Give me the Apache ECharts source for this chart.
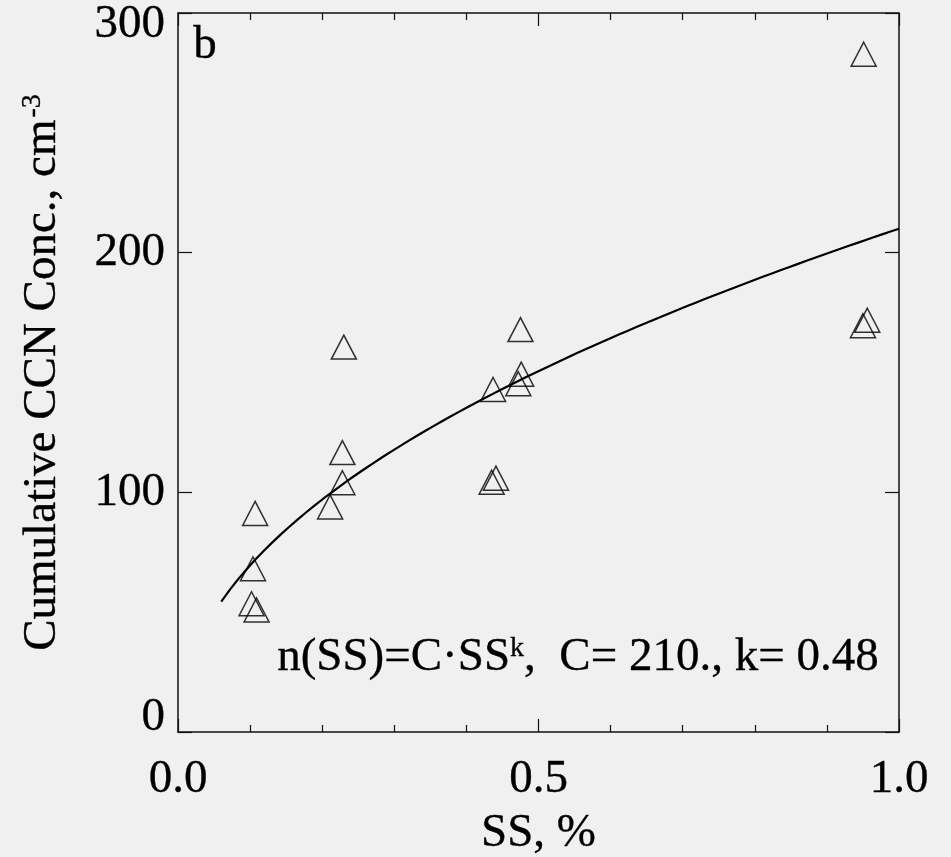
<!DOCTYPE html>
<html>
<head>
<meta charset="utf-8">
<script src="https://cdn.jsdelivr.net/npm/echarts@6/dist/echarts.min.js"></script>
<style>
  html, body { margin: 0; padding: 0; background: #f0f0f0; }
  #chart { width: 951px; height: 857px; }
</style>
</head>
<body>
<div id="chart"></div>
<script>
// Supersaturation (%) of each measurement
const ssValues = [0.102, 0.109, 0.104, 0.107, 0.211, 0.228, 0.228, 0.230,
                  0.435, 0.441, 0.437, 0.472, 0.476, 0.475, 0.950, 0.956, 0.951];
// Cumulative CCN concentration (cm^-3) at that supersaturation
const ccnValues = [53.5, 50.9, 68.1, 91.2, 93.9, 104.0, 116.6, 160.6,
                   104.2, 105.9, 142.9, 145.3, 149.3, 167.9, 169.5, 171.8, 282.8];

// Power-law fit n(SS) = C * SS^k and the SS range it is drawn over
const fitC = 210;
const fitK = 0.48;
const fitRange = [0.06, 1.0];

const xTicks = [0, 0.5, 1.0];
const yTicks = [0, 100, 200, 300];

const FONT = '"Liberation Serif", "Times New Roman", serif';

const points = ssValues.map((s, i) => [s, ccnValues[i]]);
const fitCurve = [];
for (let i = 0; i <= 80; i++) {
  const s = fitRange[0] + (fitRange[1] - fitRange[0]) * i / 80;
  fitCurve.push([s, fitC * Math.pow(s, fitK)]);
}

const axisLine = { show: true, onZero: false, lineStyle: { color: '#111', width: 1.5 } };
const tickStyle = { color: '#111', width: 1.2 };
const textInk = { textBorderColor: '#000', textBorderWidth: 0.35 };
const labelFont = Object.assign({ fontFamily: FONT, fontSize: 47, color: '#000' }, textInk);

const chart = echarts.init(document.getElementById('chart'));
chart.setOption({
  backgroundColor: '#f0f0f0',
  animation: false,
  grid: { left: 178, right: 52, top: 13, bottom: 125, containLabel: false, outerBoundsMode: 'none' },
  xAxis: [
    {
      type: 'value', position: 'bottom',
      min: xTicks[0], max: xTicks[xTicks.length - 1], interval: 0.5,
      axisLine: axisLine,
      axisTick: { show: true, inside: true, length: 13, lineStyle: tickStyle },
      minorTick: { show: true, splitNumber: 5, length: 7, lineStyle: tickStyle },
      splitLine: { show: false },
      axisLabel: Object.assign({ margin: 24, formatter: v => v.toFixed(1) }, labelFont),
      name: 'SS, %', nameLocation: 'middle', nameGap: 78,
      nameTextStyle: labelFont
    },
    {
      type: 'value', position: 'top',
      min: xTicks[0], max: xTicks[xTicks.length - 1], interval: 0.5,
      axisLine: axisLine,
      axisTick: { show: true, inside: true, length: 13, lineStyle: tickStyle },
      minorTick: { show: true, splitNumber: 5, length: 7, lineStyle: tickStyle },
      splitLine: { show: false },
      axisLabel: { show: false }
    }
  ],
  yAxis: [
    {
      type: 'value', position: 'left',
      min: yTicks[0], max: yTicks[yTicks.length - 1], interval: 100,
      axisLine: axisLine,
      axisTick: { show: true, inside: true, length: 14, lineStyle: tickStyle },
      splitLine: { show: false },
      axisLabel: Object.assign({
        margin: 13,
        // the end labels sit inside the frame height
        formatter: v => v === yTicks[0] ? '{low|' + v + '}'
                      : v === yTicks[yTicks.length - 1] ? '{high|' + v + '}' : String(v),
        rich: {
          low: Object.assign({ padding: [0, 0, 28, 0] }, labelFont),
          high: Object.assign({ padding: [24, 0, 0, 0] }, labelFont)
        }
      }, labelFont),
      name: '{t|Cumulative CCN Conc., cm}{s|-3}',
      nameLocation: 'middle', nameGap: 112,
      nameTextStyle: {
        rich: {
          t: labelFont,
          s: Object.assign({}, labelFont, { fontSize: 28, verticalAlign: 'top', padding: [0, 0, 18, 2] })
        }
      }
    },
    {
      type: 'value', position: 'right',
      min: yTicks[0], max: yTicks[yTicks.length - 1], interval: 100,
      axisLine: axisLine,
      axisTick: { show: true, inside: true, length: 14, lineStyle: tickStyle },
      splitLine: { show: false },
      axisLabel: { show: false }
    }
  ],
  graphic: [
    {
      type: 'text', left: 193, top: 22, silent: true,
      style: { text: 'b', font: '47px ' + FONT, fill: '#000', stroke: '#000', lineWidth: 0.35 }
    },
    {
      type: 'text', left: 277, top: 634, silent: true,
      style: {
        text: '{m|n(SS)=C·SS}{s|k}{m|,  C= 210., k= 0.48}',
        rich: {
          m: { font: '47px ' + FONT, fill: '#000', stroke: '#000', lineWidth: 0.35 },
          s: { font: '28px ' + FONT, fill: '#000', stroke: '#000', lineWidth: 0.35, verticalAlign: 'top', padding: [0, 0, 16, 0] }
        }
      }
    }
  ],
  series: [
    {
      type: 'line', data: fitCurve, xAxisIndex: 0, yAxisIndex: 0,
      showSymbol: false, symbol: 'none', smooth: false,
      lineStyle: { color: '#000', width: 2.2 }, z: 3
    },
    {
      type: 'scatter', data: points, xAxisIndex: 0, yAxisIndex: 0,
      symbol: 'triangle', symbolSize: [25, 24],
      itemStyle: { color: 'rgba(0,0,0,0)', borderColor: '#000', borderWidth: 1.5 },
      z: 4
    }
  ]
});
</script>
</body>
</html>
